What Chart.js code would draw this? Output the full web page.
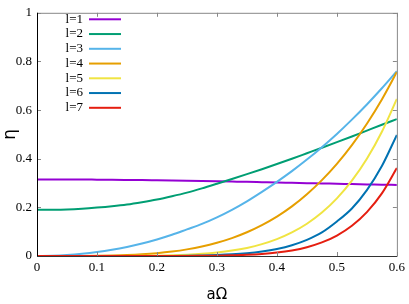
<!DOCTYPE html>
<html>
<head>
<meta charset="utf-8">
<script src="https://cdn.jsdelivr.net/npm/chart.js@4"></script>
<style>
  html, body { margin: 0; padding: 0; background: #fff; }
  #wrap { width: 409px; height: 304px; }
</style>
</head>
<body>
<div id="wrap"><canvas id="myChart" width="409" height="304"></canvas></div>
<script>
// aΩ values
let xs = [0, 0.025, 0.05, 0.075, 0.1, 0.125, 0.15, 0.175, 0.2, 0.225, 0.25, 0.275, 0.3,
          0.325, 0.35, 0.375, 0.4, 0.425, 0.45, 0.475, 0.5, 0.525, 0.55, 0.575, 0.6];

let l1 = [0.315, 0.315, 0.3148, 0.3145, 0.314, 0.3135, 0.3128, 0.312, 0.311, 0.310, 0.309, 0.308, 0.307,
          0.306, 0.305, 0.3035, 0.302, 0.3008, 0.2995, 0.2983, 0.297, 0.2958, 0.2945, 0.2933, 0.292];
let l2 = [0.190, 0.1903, 0.1915, 0.1945, 0.199, 0.2045, 0.2115, 0.221, 0.232, 0.2455, 0.2605, 0.278, 0.297,
          0.3165, 0.3365, 0.357, 0.378, 0.400, 0.4225, 0.445, 0.468, 0.4915, 0.5155, 0.5395, 0.563];
let l3 = [0, 0.001, 0.0039, 0.0089, 0.016, 0.0254, 0.0372, 0.0514, 0.0681, 0.0875, 0.1096, 0.132, 0.159,
          0.190, 0.225, 0.264, 0.305, 0.349, 0.3965, 0.4475, 0.502, 0.5608, 0.6232, 0.6896, 0.760];
let l4 = [0, 0, 0.0001, 0.0003, 0.0008, 0.002, 0.0039, 0.007, 0.0116, 0.0182, 0.0272, 0.039, 0.0544,
          0.0736, 0.0977, 0.127, 0.162, 0.204, 0.254, 0.312, 0.379, 0.456, 0.544, 0.644, 0.757];
let l5 = [0, 0, 0, 0, 0, 0.0001, 0.0003, 0.0008, 0.0015, 0.0029, 0.0052, 0.0088, 0.0143,
          0.0222, 0.0333, 0.0487, 0.0694, 0.0969, 0.1327, 0.1787, 0.237, 0.310, 0.400, 0.511, 0.646];
let l6 = [0, 0, 0, 0, 0, 0, 0, 0.0001, 0.0002, 0.0005, 0.0011, 0.0021, 0.0039,
          0.0068, 0.0114, 0.0186, 0.0291, 0.0445, 0.0665, 0.0971, 0.142, 0.1955, 0.271, 0.370, 0.498];
let l7 = [0, 0, 0, 0, 0, 0, 0, 0, 0.0001, 0.0002, 0.0004, 0.0008, 0.0014,
          0.0027, 0.0048, 0.0084, 0.0141, 0.0229, 0.0362, 0.0558, 0.0842, 0.1244, 0.1806, 0.2575, 0.362];

let labels = ['l=1', 'l=2', 'l=3', 'l=4', 'l=5', 'l=6', 'l=7'];
let series = [l1, l2, l3, l4, l5, l6, l7];
let colors = ['#9400d3', '#009e73', '#56b4e9', '#e69f00', '#f0e442', '#0072b2', '#e51e10'];

let xTicks = [0, 0.1, 0.2, 0.3, 0.4, 0.5, 0.6];
let yTicks = [0, 0.2, 0.4, 0.6, 0.8, 1];

const serif = '"Liberation Serif", "DejaVu Serif", serif';

let datasets = series.map((s, i) => ({
    label: labels[i],
    data: xs.map((x, j) => ({ x: x, y: s[j] })),
    borderColor: colors[i],
    backgroundColor: colors[i],
    borderWidth: 2,
    pointRadius: 0,
    fill: false,
    cubicInterpolationMode: 'monotone',
    order: 7 - i,
}));

// gnuplot-like frame, inward ticks and key
const framePlugin = {
    id: 'frame',
    afterDatasetsDraw(chart) {
        const ctx = chart.ctx;
        const a = chart.chartArea;
        const sx = chart.scales.x, sy = chart.scales.y;
        ctx.save();
        ctx.lineWidth = 1;
        // top / right in grey
        ctx.strokeStyle = '#888';
        ctx.beginPath();
        ctx.moveTo(a.left, a.top + 0.5); ctx.lineTo(a.right + 0.5, a.top + 0.5);
        ctx.lineTo(a.right + 0.5, a.bottom);
        ctx.stroke();
        // ticks
        xTicks.forEach(v => {
            let px = Math.round(sx.getPixelForValue(v)) + 0.5;
            ctx.beginPath();
            ctx.moveTo(px, a.bottom); ctx.lineTo(px, a.bottom - 4);
            ctx.moveTo(px, a.top); ctx.lineTo(px, a.top + 4);
            ctx.stroke();
        });
        yTicks.forEach(v => {
            let py = Math.round(sy.getPixelForValue(v)) + 0.5;
            ctx.beginPath();
            ctx.moveTo(a.left, py); ctx.lineTo(a.left + 4, py);
            ctx.moveTo(a.right, py); ctx.lineTo(a.right - 4, py);
            ctx.stroke();
        });
        // left / bottom
        ctx.strokeStyle = '#000';
        ctx.beginPath();
        ctx.moveTo(a.left + 0.5, a.top); ctx.lineTo(a.left + 0.5, a.bottom + 0.5);
        ctx.stroke();
        ctx.strokeStyle = '#333';
        ctx.beginPath();
        ctx.moveTo(a.left, a.bottom + 0.5); ctx.lineTo(a.right + 0.5, a.bottom + 0.5);
        ctx.stroke();

        // key
        ctx.font = '13px ' + serif;
        ctx.textAlign = 'right';
        ctx.textBaseline = 'middle';
        labels.forEach((lab, i) => {
            let y = a.top + 6.5 + i * 14.75;
            ctx.fillStyle = '#000';
            ctx.fillText(lab, a.left + 46, y);
            ctx.strokeStyle = colors[i];
            ctx.lineWidth = 2;
            ctx.beginPath();
            ctx.moveTo(a.left + 52, y); ctx.lineTo(a.left + 84, y);
            ctx.stroke();
        });
        ctx.restore();
    }
};

new Chart(document.getElementById('myChart'), {
    type: 'line',
    data: { datasets: datasets },
    options: {
        responsive: false,
        animation: false,
        events: [],
        layout: { padding: { top: 9, right: 12, left: 0, bottom: 0 } },
        plugins: {
            legend: { display: false },
            tooltip: { enabled: false },
        },
        scales: {
            x: {
                type: 'linear',
                min: 0,
                max: 0.6,
                afterFit: s => { s.height = 48; },
                afterBuildTicks: s => { s.ticks = xTicks.map(v => ({ value: v })); },
                grid: { display: false, drawTicks: false },
                border: { display: false },
                ticks: {
                    color: '#000',
                    padding: 4,
                    font: { family: serif, size: 13 },
                    callback: v => String(v),
                },
                title: {
                    display: true,
                    text: 'aΩ',
                    color: '#000',
                    font: { family: '"DejaVu Sans", sans-serif', size: 15 },
                    padding: { top: 14, bottom: 0 },
                },
            },
            y: {
                type: 'linear',
                min: 0,
                max: 1,
                afterFit: s => { s.width = 37; },
                afterBuildTicks: s => { s.ticks = yTicks.map(v => ({ value: v })); },
                grid: { display: false, drawTicks: false },
                border: { display: false },
                ticks: {
                    color: '#000',
                    padding: 5,
                    font: { family: serif, size: 13 },
                    callback: v => String(v),
                },
                title: {
                    display: true,
                    text: 'η',
                    color: '#000',
                    font: { family: '"DejaVu Sans", sans-serif', size: 17 },
                    padding: { top: 0, bottom: 0 },
                },
            },
        },
    },
    plugins: [framePlugin],
});
</script>
</body>
</html>
